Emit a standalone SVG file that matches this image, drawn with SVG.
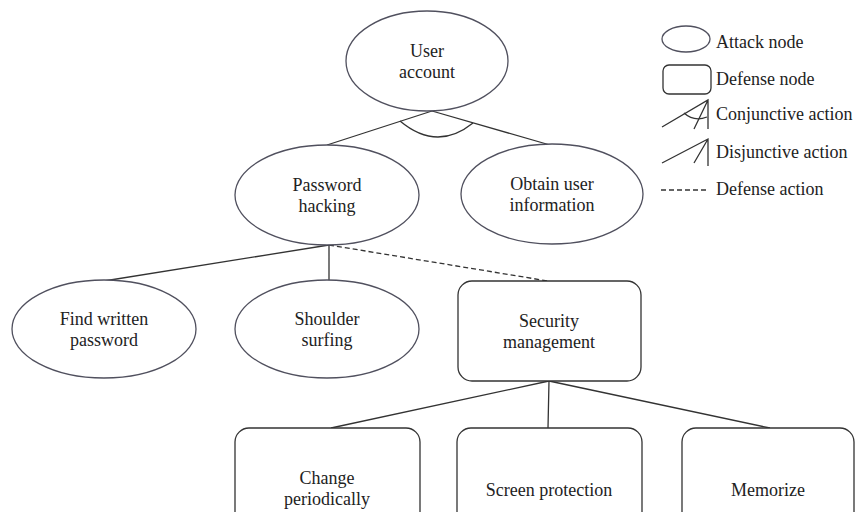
<svg xmlns="http://www.w3.org/2000/svg" width="856" height="512" viewBox="0 0 856 512" font-family="'Liberation Serif', 'Times New Roman', 'DejaVu Serif', serif">
<style>
.atk{fill:#fff;stroke:#50505e;stroke-width:1.3}
.def{fill:#fff;stroke:#333;stroke-width:1.3}
.ln{fill:none;stroke:#333;stroke-width:1.3}
.dash{fill:none;stroke:#333;stroke-width:1.3;stroke-dasharray:5 3}
.t{font-family:'Liberation Serif','Times New Roman','DejaVu Serif',serif;font-size:18px;fill:#222}
.c{text-anchor:middle}
</style>
<rect width="856" height="512" fill="#fff"/>
<g id="connectors">
<path class="ln" d="M432,111 L327,145 M432,111 L550,145"/>
<path class="ln" d="M400,121 Q437,152 473,123"/>
<path class="ln" d="M329,245 L104,281 M329,245 L329,281"/>
<path class="dash" d="M329,245 L548,281"/>
<path class="ln" d="M549,381 L331,428 M549,381 L548,428 M549,381 L770,428"/>
</g>
<g id="user-account"><ellipse class="atk" cx="427" cy="61" rx="81" ry="50"/><text class="t c" x="427" y="57">User</text><text class="t c" x="427" y="78">account</text></g>
<g id="password-hacking"><ellipse class="atk" cx="327" cy="195" rx="92" ry="50"/><text class="t c" x="327" y="191">Password</text><text class="t c" x="327" y="212">hacking</text></g>
<g id="obtain-user-information"><ellipse class="atk" cx="552" cy="194" rx="91" ry="50"/><text class="t c" x="552" y="190">Obtain user</text><text class="t c" x="552" y="211">information</text></g>
<g id="find-written-password"><ellipse class="atk" cx="104" cy="329" rx="92" ry="49"/><text class="t c" x="104" y="325">Find written</text><text class="t c" x="104" y="346">password</text></g>
<g id="shoulder-surfing"><ellipse class="atk" cx="327" cy="329" rx="92" ry="49"/><text class="t c" x="327" y="325">Shoulder</text><text class="t c" x="327" y="346">surfing</text></g>
<g id="security-management"><rect class="def" x="458" y="281" width="183" height="100" rx="14"/><text class="t c" x="549" y="327">Security</text><text class="t c" x="549" y="348">management</text></g>
<g id="change-periodically"><rect class="def" x="235" y="428" width="185" height="100" rx="14"/><text class="t c" x="327" y="484">Change</text><text class="t c" x="327" y="505">periodically</text></g>
<g id="screen-protection"><rect class="def" x="457" y="428" width="185" height="100" rx="14"/><text class="t c" x="549" y="496">Screen protection</text></g>
<g id="memorize"><rect class="def" x="682" y="428" width="172" height="100" rx="14"/><text class="t c" x="768" y="496">Memorize</text></g>
<g id="legend">
<ellipse class="atk" cx="686" cy="39" rx="24" ry="13"/>
<text class="t" x="716" y="48">Attack node</text>
<rect class="def" x="663" y="65" width="48" height="29" rx="6"/>
<text class="t" x="716" y="85">Defense node</text>
<path class="ln" d="M662,127 L708,100 L708,129 M708,100 L694,129"/>
<path class="ln" d="M684,113 Q694,122 707,117"/>
<text class="t" x="716" y="120">Conjunctive action</text>
<path class="ln" d="M662,163 L708,139 L708,166 M708,139 L694,163"/>
<text class="t" x="716" y="158">Disjunctive action</text>
<path class="dash" d="M661,190 L708,190"/>
<text class="t" x="716" y="195">Defense action</text>
</g>
</svg>
